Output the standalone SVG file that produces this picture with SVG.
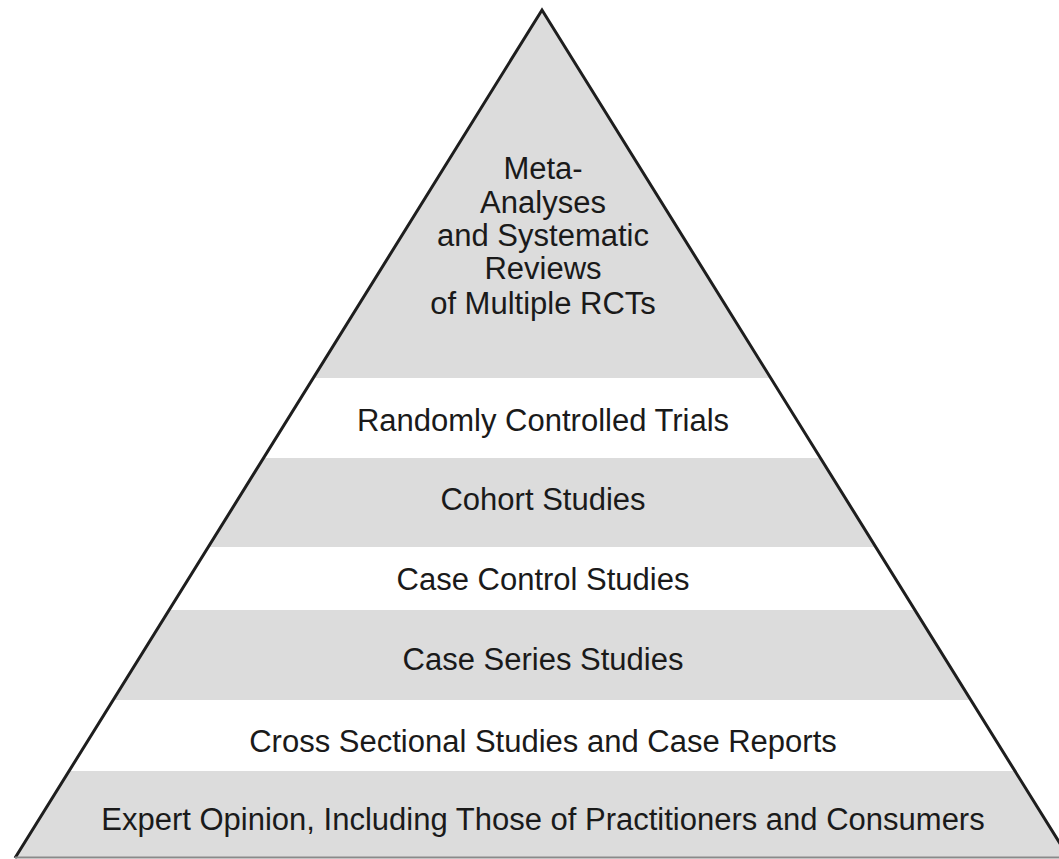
<svg xmlns="http://www.w3.org/2000/svg" width="1059" height="859" viewBox="0 0 1059 859">
  <defs>
    <clipPath id="tri">
      <polygon points="542,10 15,857 1069,857"/>
    </clipPath>
    <style>
      .band-gray { fill: #dcdcdc; }
      .band-white { fill: #ffffff; }
      .label { font-family: "Liberation Sans", Arial, sans-serif; font-size: 31px; fill: #1a1a1a; text-anchor: middle; }
      .edge { fill: none; stroke: #1e1e1e; stroke-width: 3; stroke-linejoin: miter; }
    </style>
  </defs>
  <rect width="1059" height="859" fill="#ffffff"/>
  <g id="bands" clip-path="url(#tri)">
    <rect id="band-1" class="band-gray" x="0" y="0" width="1100" height="378"/>
    <rect id="band-2" class="band-white" x="0" y="378" width="1100" height="80"/>
    <rect id="band-3" class="band-gray" x="0" y="458" width="1100" height="89"/>
    <rect id="band-4" class="band-white" x="0" y="547" width="1100" height="63"/>
    <rect id="band-5" class="band-gray" x="0" y="610" width="1100" height="90"/>
    <rect id="band-6" class="band-white" x="0" y="700" width="1100" height="71"/>
    <rect id="band-7" class="band-gray" x="0" y="771" width="1100" height="88"/>
  </g>
  <g id="outline">
    <polyline class="edge" points="15,858 542,10 1069,858"/>
    <line x1="15" y1="857.5" x2="1059" y2="857.5" stroke="#8a8a8a" stroke-width="2"/>
  </g>
  <g id="level-1">
    <text class="label" x="543" y="179">Meta-</text>
    <text class="label" x="543" y="213">Analyses</text>
    <text class="label" x="543" y="246">and Systematic</text>
    <text class="label" x="543" y="279">Reviews</text>
    <text class="label" x="543" y="314">of Multiple RCTs</text>
  </g>
  <g id="level-2"><text class="label" x="543" y="431">Randomly Controlled Trials</text></g>
  <g id="level-3"><text class="label" x="543" y="510">Cohort Studies</text></g>
  <g id="level-4"><text class="label" x="543" y="590">Case Control Studies</text></g>
  <g id="level-5"><text class="label" x="543" y="670">Case Series Studies</text></g>
  <g id="level-6"><text class="label" x="543" y="752">Cross Sectional Studies and Case Reports</text></g>
  <g id="level-7"><text class="label" x="543" y="830">Expert Opinion, Including Those of Practitioners and Consumers</text></g>
</svg>
